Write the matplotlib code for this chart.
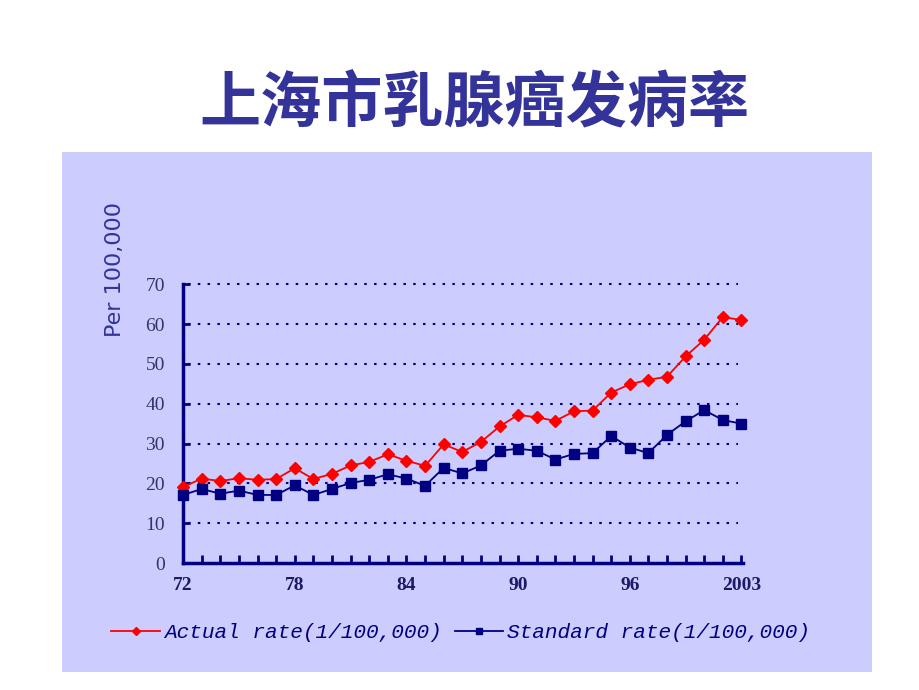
import numpy as np
import matplotlib.pyplot as plt
from matplotlib.patches import Rectangle
from matplotlib.ticker import MultipleLocator

title = "上海市乳腺癌发病率"
ylabel = "Per 100,000"
xtick_labels = ["72", "78", "84", "90", "96", "2003"]
label_actual = "Actual rate(1/100,000)"
label_standard = "Standard rate(1/100,000)"

# one point per year, 31 points
actual_rate = [19.1, 21.2, 20.6, 21.3, 20.9, 21.1, 23.8, 21.1, 22.4, 24.5,
               25.4, 27.3, 25.7, 24.4, 29.8, 27.9, 30.4, 34.3, 37.2, 36.6,
               35.7, 38.1, 38.3, 42.8, 44.9, 46.0, 46.8, 51.9, 56.1, 61.8, 61.0]
standard_rate = [17.1, 18.6, 17.4, 18.2, 17.1, 17.1, 19.5, 17.1, 18.6, 20.1,
                 20.9, 22.3, 21.2, 19.4, 23.9, 22.5, 24.5, 28.2, 28.7, 28.2,
                 26.0, 27.4, 27.6, 31.9, 29.0, 27.6, 32.2, 35.6, 38.4, 35.9, 35.0]

navy = '#000080'
panel = '#CCCCFF'

plt.rcParams['font.family'] = ['Noto Sans CJK SC', 'DejaVu Sans']

fig = plt.figure(figsize=(9.2, 6.9), dpi=100)
fig.patch.set_facecolor('white')
fig.patches.append(Rectangle((0.0674, 0.026), 0.880, 0.754, transform=fig.transFigure,
                             facecolor=panel, edgecolor='none', zorder=-10))

fig.text(0.516, 0.848, title, ha='center', va='center', fontsize=44,
         fontweight='bold', color='#333399')

ax = fig.add_axes([0.199, 0.184, 0.609, 0.404])
ax.set_facecolor('none')
ax.set_zorder(2)

x = np.arange(len(actual_rate))
ax.hlines(np.arange(10, 80, 10), 0.25, 29.8, colors=navy, linestyles=(0, (1.2, 3.5)),
          linewidth=1.5, zorder=1, clip_on=False)
ax.plot(x, actual_rate, color='#FF0000', marker='D', markersize=6.5, linewidth=1.3,
        label=label_actual, zorder=3, clip_on=False)
ax.plot(x, standard_rate, color=navy, marker='s', markersize=7, linewidth=1.3,
        label=label_standard, zorder=3, clip_on=False)

ax.set_xlim(0, 30.1)
ax.set_ylim(0, 70)
for s in ['top', 'right']:
    ax.spines[s].set_visible(False)
for s in ['left', 'bottom']:
    ax.spines[s].set_color(navy)
    ax.spines[s].set_linewidth(2.5)
ax.spines['left'].set_bounds(0, 70)
ax.spines['bottom'].set_bounds(0, 30.1)

ax.set_xticks(np.arange(0, 31, 6))
ax.set_xticklabels(xtick_labels, fontfamily='Liberation Serif', fontweight='bold',
                   fontsize=14, color='#1a1a66')
ax.xaxis.set_minor_locator(MultipleLocator(1))
ax.tick_params(axis='x', which='both', direction='in', length=6, width=2,
               color=navy, pad=10)
ax.set_yticks(np.arange(0, 80, 10))
ax.set_yticklabels([str(v) for v in range(0, 80, 10)], fontfamily='Liberation Serif',
                   fontsize=14, color='#333366')
ax.tick_params(axis='y', direction='in', length=5, width=2, color=navy, pad=13)

fig.text(0.125, 0.609, ylabel, rotation=90, ha='center', va='center', fontsize=16,
         color='#333399', fontfamily='DejaVu Sans')

fig.legend(loc='center', bbox_to_anchor=(0.501, 0.083), ncol=2, frameon=False,
           prop={'family': 'Liberation Mono', 'style': 'italic', 'size': 15.2},
           labelcolor=navy, handlelength=2.3, handletextpad=0.2, columnspacing=0.6,
           markerscale=0.7)

fig.savefig('out.png', dpi=100, facecolor='white')
